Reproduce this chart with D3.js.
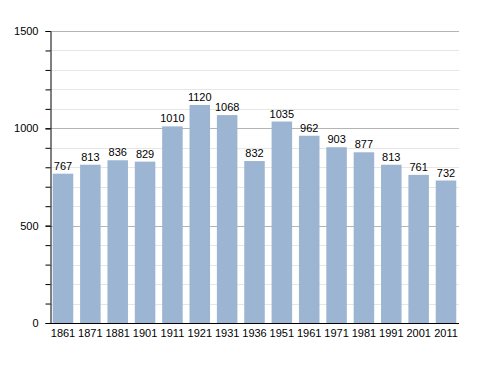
<!DOCTYPE html>
<html>
<head>
<meta charset="utf-8">
<script src="https://cdn.jsdelivr.net/npm/d3@7"></script>
<style>
  body { margin: 0; background: #fff; }
  text { font-family: "Liberation Sans", Arial, sans-serif; }
</style>
</head>
<body>
<svg id="chart" width="488" height="373"></svg>
<script>
// data
var years = ["1861", "1871", "1881", "1901", "1911", "1921", "1931", "1936", "1951", "1961", "1971", "1981", "1991", "2001", "2011"];
var population = [767, 813, 836, 829, 1010, 1120, 1068, 832, 1035, 962, 903, 877, 813, 761, 732];
var yTicks = [0, 500, 1000, 1500];

var svg = d3.select("#chart");

// plot area
var plot = {left: 50, right: 459, top: 31, bottom: 323};

var x = d3.scaleBand()
  .domain(years)
  .range([plot.left, plot.right])
  .paddingInner(0.25)
  .paddingOuter(0.1);

var y = d3.scaleLinear()
  .domain([0, 1500])
  .range([plot.bottom, plot.top]);

// minor grid every 100
svg.append("g")
  .selectAll("line")
  .data(d3.range(100, 1500, 100).filter(function(d) { return d % 500 != 0; }))
  .enter().append("line")
  .attr("x1", plot.left).attr("x2", plot.right)
  .attr("y1", function(d) { return Math.round(y(d)) + 0.5; })
  .attr("y2", function(d) { return Math.round(y(d)) + 0.5; })
  .attr("stroke", "#e6e6e6");

// major grid
svg.append("g")
  .selectAll("line")
  .data(yTicks.filter(function(d) { return d > 0; }))
  .enter().append("line")
  .attr("x1", plot.left).attr("x2", plot.right)
  .attr("y1", function(d) { return Math.round(y(d)) + 0.5; })
  .attr("y2", function(d) { return Math.round(y(d)) + 0.5; })
  .attr("stroke", "#b4b4b4");

// bars
svg.selectAll(".bar")
  .data(population)
  .enter().append("rect")
  .attr("class", "bar")
  .attr("x", function(d, i) { return x(years[i]); })
  .attr("width", x.bandwidth())
  .attr("y", function(d) { return y(d); })
  .attr("height", function(d) { return plot.bottom - y(d); })
  .attr("fill", "#9cb5d2");

// value labels
svg.selectAll(".val")
  .data(population)
  .enter().append("text")
  .attr("class", "val")
  .attr("x", function(d, i) { return x(years[i]) + x.bandwidth() / 2; })
  .attr("y", function(d) { return y(d) - 4; })
  .attr("text-anchor", "middle")
  .style("font-size", "11px")
  .attr("fill", "#000")
  .text(function(d) { return d; });

// y axis, minor ticks
svg.append("g")
  .attr("transform", "translate(" + (plot.left + 0.5) + ",0)")
  .call(d3.axisLeft(y).tickValues(d3.range(0, 1600, 100)).tickSize(5).tickFormat(""))
  .call(function(g) { g.select(".domain").remove(); });

// y axis, labels
var ya = svg.append("g")
  .attr("transform", "translate(" + (plot.left + 0.5) + ",0)")
  .call(d3.axisLeft(y).tickValues(yTicks).tickFormat(d3.format("d")).tickSize(5).tickPadding(7).tickSizeOuter(0));
ya.selectAll("text").style("font-size", "11px").attr("fill", "#000");
ya.select(".domain").attr("stroke", "#000");

// x axis
var xa = svg.append("g")
  .attr("transform", "translate(0," + (plot.bottom + 0.5) + ")")
  .call(d3.axisBottom(x).tickSize(0).tickPadding(6).tickSizeOuter(0));
xa.select(".domain").attr("d", "M" + plot.left + ",0H" + plot.right).attr("stroke", "#000");
xa.selectAll("text").style("font-size", "11px").attr("fill", "#000");
</script>
</body>
</html>
